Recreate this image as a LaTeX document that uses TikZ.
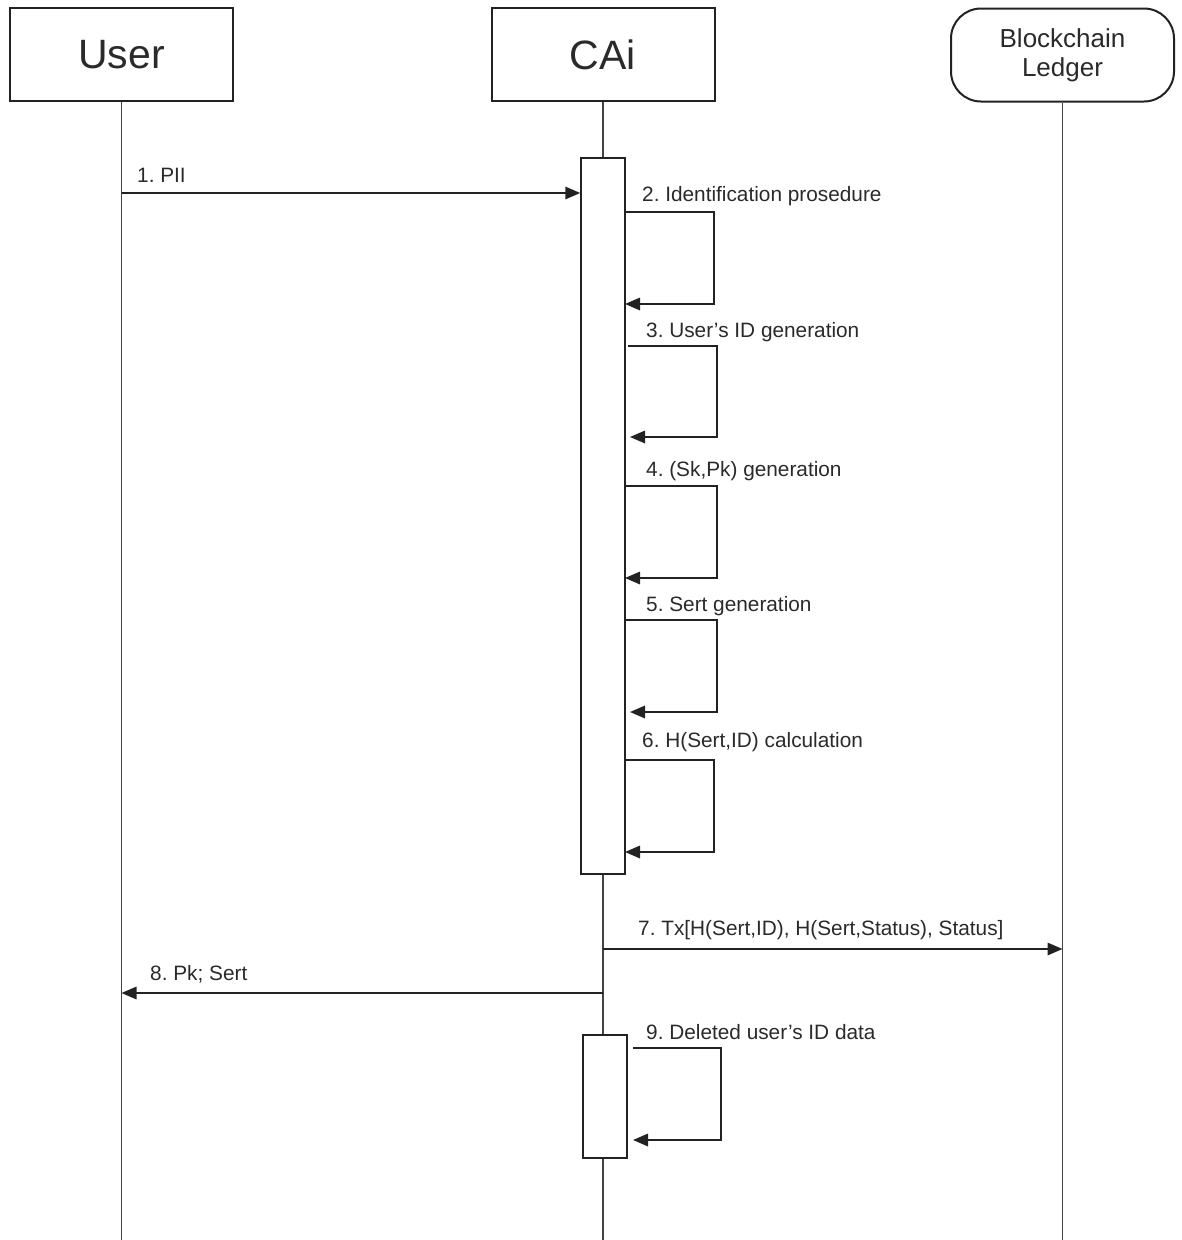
\documentclass[tikz,border=0pt]{standalone}
\usepackage{fontspec}
\setmainfont{Liberation Sans}
\usetikzlibrary{arrows.meta}
\definecolor{ink}{HTML}{222222}
\definecolor{txt}{HTML}{2A2A2A}
\frenchspacing
\begin{document}
\begin{tikzpicture}[x=1pt,y=-1pt,
  actor/.style={draw=ink, line width=2pt, minimum width=223pt, minimum height=93pt,
                inner sep=0pt, text=txt, font=\fontsize{41}{48}\selectfont},
  ledger/.style={actor, rounded corners=30pt, align=center,
                 font=\fontsize{26}{29}\selectfont},
  lifeline/.style={draw=ink!85, line width=1.2pt},
  actbar/.style={draw=ink, line width=1.5pt, fill=white, inner sep=0pt,
                 minimum width=44pt, anchor=north},
  msg/.style={draw=ink, line width=1.6pt, -{Triangle[length=15pt,width=12.5pt]}},
  lbl/.style={anchor=base west, inner sep=0pt, text=txt,
              font=\fontsize{20.8}{24}\selectfont},
]
\useasboundingbox (0,0) rectangle (1182,1240);

% participants
\node[actor]  (user)   at (121.5,54.5) {User};
\node[actor]  (cai)    at (603,54.5)   {CAi};
\node[ledger] (ledger) at (1062.5,55)  {Blockchain\\Ledger};

% lifelines
\coordinate (userEnd)   at (121.5,1240);
\coordinate (caiEnd)    at (603,1240);
\coordinate (ledgerEnd) at (1062.5,1240);
\draw[lifeline] (user.south)   -- (userEnd);
\draw[lifeline] (cai.south)    -- (caiEnd);
\draw[lifeline] (ledger.south) -- (ledgerEnd);

% activation bars
\node[actbar, minimum height=716pt] (act1) at (603,157)  {};
\node[actbar, minimum height=123pt] (act2) at (605,1034) {};

% 1. PII
\coordinate (m1s) at (121.5,193);
\draw[msg] (m1s) -- (m1s -| act1.west);
\node[lbl] (l1) at (137,182) {1. PII};

% self messages on the CA
\coordinate (s2a) at (625,212); \coordinate (s2b) at (625,304);
\draw[msg] (s2a) -- ++(89,0) |- (s2b);
\node[lbl] (l2) at (642,201) {2. Identification prosedure};

\coordinate (s3a) at (628,346); \coordinate (s3b) at (630,437);
\draw[msg] (s3a) -- (717,346) |- (s3b);
\node[lbl] (l3) at (646,337) {3. User's ID generation};

\coordinate (s4a) at (625,486); \coordinate (s4b) at (625,578);
\draw[msg] (s4a) -- (717,486) |- (s4b);
\node[lbl] (l4) at (646,476) {4. (Sk,Pk) generation};

\coordinate (s5a) at (625,620); \coordinate (s5b) at (630,712);
\draw[msg] (s5a) -- (717,620) |- (s5b);
\node[lbl] (l5) at (646,611) {5. Sert generation};

\coordinate (s6a) at (625,760); \coordinate (s6b) at (625,852);
\draw[msg] (s6a) -- (714,760) |- (s6b);
\node[lbl] (l6) at (642,747) {6. H(Sert,ID) calculation};

% 7. transaction to the ledger
\coordinate (m7s) at (603,949);
\draw[msg] (m7s) -- (m7s -| ledger.south);
\node[lbl] (l7) at (638,935) {7. Tx[H(Sert,ID), H(Sert,Status), Status]};

% 8. keys and certificate back to the user
\coordinate (m8s) at (603,993);
\draw[msg] (m8s) -- (m8s -| user.south);
\node[lbl] (l8) at (150,980) {8. Pk; Sert};

% 9. deletion of the ID data
\coordinate (s9a) at (633,1048); \coordinate (s9b) at (633,1140);
\draw[msg] (s9a) -- (721,1048) |- (s9b);
\node[lbl] (l9) at (646,1039) {9. Deleted user's ID data};
\end{tikzpicture}
\end{document}
